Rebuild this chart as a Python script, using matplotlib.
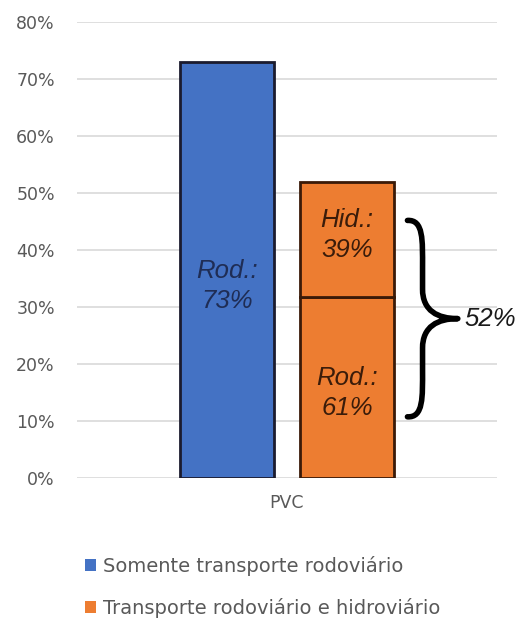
import matplotlib
matplotlib.use("Agg")
import matplotlib.pyplot as plt
from matplotlib.path import Path
from matplotlib.patches import PathPatch, Patch

# Data
category = "PVC"
only_road_total = 0.73          # Somente transporte rodoviário
mixed_total = 0.52              # Transporte rodoviário e hidroviário
mixed_shares = {"Rod.": 0.61, "Hid.": 0.39}   # shares inside the mixed bar
series_names = ["Somente transporte rodoviário", "Transporte rodoviário e hidroviário"]
y_ticks = [0, 0.1, 0.2, 0.3, 0.4, 0.5, 0.6, 0.7, 0.8]

BLUE = "#4472C4"
ORANGE = "#ED7D31"
GRID = "#D9D9D9"
TICK = "#595959"

fig = plt.figure(figsize=(5.28, 6.22), dpi=100)
ax = fig.add_axes([0.146, 0.232, 0.795, 0.732])

offset = 0.143
width = 0.224

# Blue bar
ax.bar(-offset, only_road_total, width, color=BLUE, edgecolor="#1B1B2E", linewidth=2, zorder=3)

# Stacked orange bar
rod_val = mixed_total * mixed_shares["Rod."]
hid_val = mixed_total * mixed_shares["Hid."]
ax.bar(offset, rod_val, width, color=ORANGE, edgecolor="#3A1A08", linewidth=2, zorder=3)
ax.bar(offset, hid_val, width, bottom=rod_val, color=ORANGE, edgecolor="#3A1A08",
       linewidth=2, zorder=3)

label_kw = dict(ha="center", va="center", fontsize=18.5, style="italic",
                family="Liberation Sans", linespacing=1.3, zorder=4)
ax.text(-offset, only_road_total / 2 - 0.028,
        f"Rod.:\n{only_road_total*100:.0f}%", color="#1F2D55", **label_kw)
ax.text(offset, rod_val / 2 - 0.01,
        f"Rod.:\n{mixed_shares['Rod.']*100:.0f}%", color="#3A1C0A", **label_kw)
ax.text(offset, rod_val + hid_val / 2 + 0.008,
        f"Hid.:\n{mixed_shares['Hid.']*100:.0f}%", color="#3A1C0A", **label_kw)


def curly_brace(axis, x0, y_top, y_bot, w, **kw):
    """Right-pointing curly brace spanning y_bot..y_top starting at x0."""
    ym = (y_top + y_bot) / 2
    h = y_top - y_bot
    xs = x0 + 0.3 * w
    xt = x0 + w
    verts = [
        (x0, y_top),
        (x0 + 0.32 * w, y_top + 0.005 * h), (xs, y_top - 0.1 * h), (xs, y_top - 0.24 * h),
        (xs, ym + 0.15 * h),
        (xs, ym + 0.04 * h), (xs + 0.3 * w, ym), (xt, ym),
        (xs + 0.3 * w, ym), (xs, ym - 0.04 * h), (xs, ym - 0.15 * h),
        (xs, y_bot + 0.24 * h),
        (xs, y_bot + 0.1 * h), (x0 + 0.32 * w, y_bot - 0.005 * h), (x0, y_bot),
    ]
    codes = [Path.MOVETO,
             Path.CURVE4, Path.CURVE4, Path.CURVE4,
             Path.LINETO,
             Path.CURVE4, Path.CURVE4, Path.CURVE4,
             Path.CURVE4, Path.CURVE4, Path.CURVE4,
             Path.LINETO,
             Path.CURVE4, Path.CURVE4, Path.CURVE4]
    axis.add_patch(PathPatch(Path(verts, codes), fill=False, clip_on=False, **kw))
    return xt, ym


tip_x, tip_y = curly_brace(ax, offset + width / 2 + 0.032, 0.452, 0.107, 0.12,
                           edgecolor="black", linewidth=4.0, capstyle="round",
                           joinstyle="round", zorder=5)
ax.text(tip_x + 0.016, tip_y, f"{mixed_total*100:.0f}%", ha="left", va="center",
        fontsize=18.5, style="italic", family="Liberation Sans", color="#1A1A1A",
        clip_on=False)

# Axes styling
ax.set_xlim(-0.5, 0.5)
ax.set_ylim(0, 0.8)
ax.set_yticks(y_ticks)
ax.set_yticklabels([f"{t*100:.0f}%" for t in y_ticks])
ax.set_xticks([0])
ax.set_xticklabels([category])
for s in ax.spines.values():
    s.set_visible(False)
ax.yaxis.grid(True, color=GRID, linewidth=1.2, zorder=0)
ax.set_axisbelow(True)
ax.tick_params(axis="both", length=0, colors=TICK, labelsize=12.5)
ax.tick_params(axis="y", pad=16)
ax.tick_params(axis="x", pad=12)
for lab in ax.get_xticklabels() + ax.get_yticklabels():
    lab.set_family("DejaVu Sans")

handles = [Patch(facecolor=BLUE, edgecolor="none"), Patch(facecolor=ORANGE, edgecolor="none")]
leg = fig.legend(handles, series_names, loc="upper left", bbox_to_anchor=(0.128, 0.134),
                 frameon=False, handlelength=0.55, handleheight=0.55, handletextpad=0.35,
                 labelspacing=1.1, prop={"family": "DejaVu Sans", "size": 14})
for t in leg.get_texts():
    t.set_color(TICK)

fig.savefig("out.png", dpi=100, facecolor="white")
